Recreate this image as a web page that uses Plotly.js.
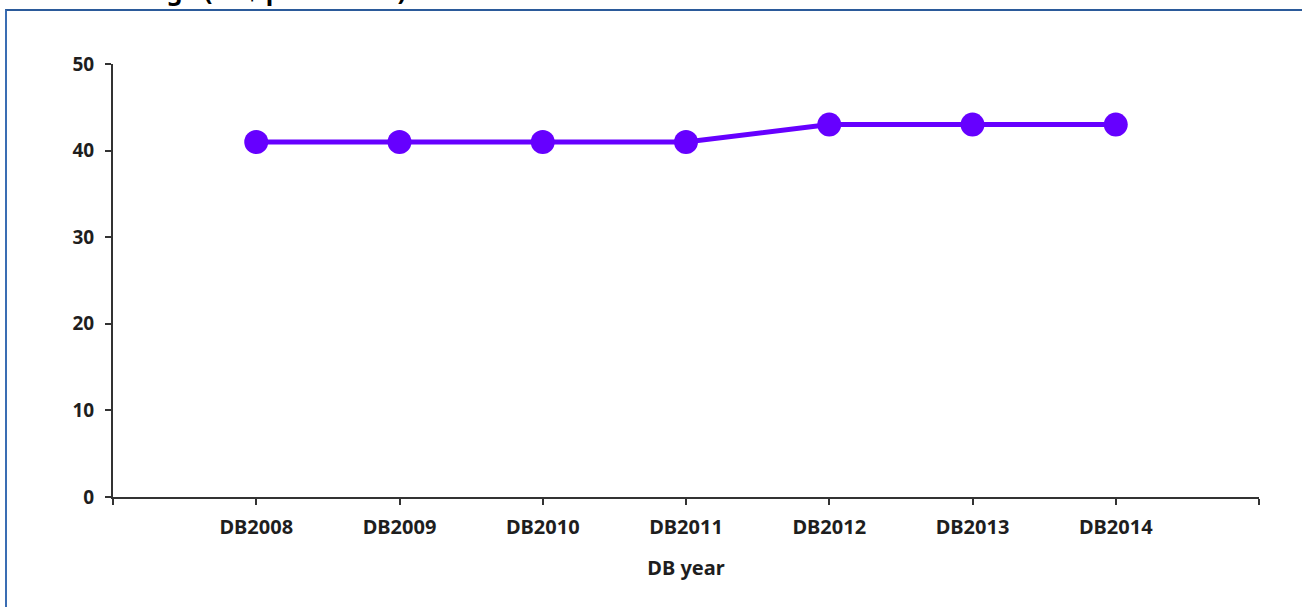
<!DOCTYPE html>
<html>
<head>
<meta charset="utf-8">
<script src="https://cdn.plot.ly/plotly-3.0.1.min.js"></script>
<style>
html,body{margin:0;padding:0;background:#fff;}
#wrap{position:relative;width:1302px;height:607px;overflow:hidden;}
#chart{width:1302px;height:607px;}
#frame{position:absolute;left:5px;top:9px;right:-10px;bottom:-10px;border-left:2px solid #3a6db3;border-top:2px solid #2b5a9a;pointer-events:none;}
</style>
</head>
<body>
<div id="wrap"><div id="chart"></div><div id="frame"></div></div>
<script>
const categories = ["DB2008","DB2009","DB2010","DB2011","DB2012","DB2013","DB2014"];
const minWage = [41, 41, 41, 41, 43, 43, 43];
const chartTitle = "Minimum wage (US$ per month)";
const xTitle = "DB year";
const yTicks = [0, 10, 20, 30, 40, 50];

const idx = categories.map((c, i) => i);
const tickvals = [-1].concat(idx).concat([categories.length]);
const ticktext = [""].concat(categories).concat([""]);

const FONT = "Noto Sans, DejaVu Sans, sans-serif";
const trace = {
  x: idx,
  y: minWage,
  mode: "lines+markers",
  type: "scatter",
  line: {color: "#6600ff", width: 5},
  marker: {color: "#6600ff", size: 24},
  hoverinfo: "x+y",
  cliponaxis: false
};
const layout = {
  width: 1302, height: 607,
  margin: {l: 113, r: 43, t: 64, b: 110},
  paper_bgcolor: "#ffffff",
  plot_bgcolor: "#ffffff",
  showlegend: false,
  font: {family: FONT, color: "#1e1e1e"},
  xaxis: {
    range: [-1, categories.length],
    tickmode: "array", tickvals: tickvals, ticktext: ticktext,
    showgrid: false, zeroline: false,
    showline: true, linecolor: "#333333", linewidth: 2,
    ticks: "outside", ticklen: 6, tickwidth: 2, tickcolor: "#333333",
    ticklabelstandoff: 5,
    tickfont: {family: FONT, size: 20, weight: "bold", color: "#1e1e1e"},
    title: {text: xTitle, font: {family: FONT, size: 20, weight: "bold", color: "#1e1e1e"}, standoff: 22}
  },
  yaxis: {
    range: [0, 50],
    tickmode: "array", tickvals: yTicks,
    showgrid: false, zeroline: false,
    showline: true, linecolor: "#333333", linewidth: 2,
    ticks: "outside", ticklen: 6, tickwidth: 2, tickcolor: "#333333",
    ticklabelstandoff: 7,
    tickfont: {family: FONT, size: 19, weight: "bold", color: "#1e1e1e"}
  },
  annotations: [{
    text: chartTitle,
    xref: "paper", yref: "paper",
    x: (2 - 113) / 1146, y: (497 - 9) / 433,
    xanchor: "left", yanchor: "bottom",
    showarrow: false,
    font: {family: FONT, size: 25, weight: "bold", color: "#000000"}
  }]
};
Plotly.newPlot("chart", [trace], layout, {displayModeBar: false, staticPlot: true});
</script>
</body>
</html>
